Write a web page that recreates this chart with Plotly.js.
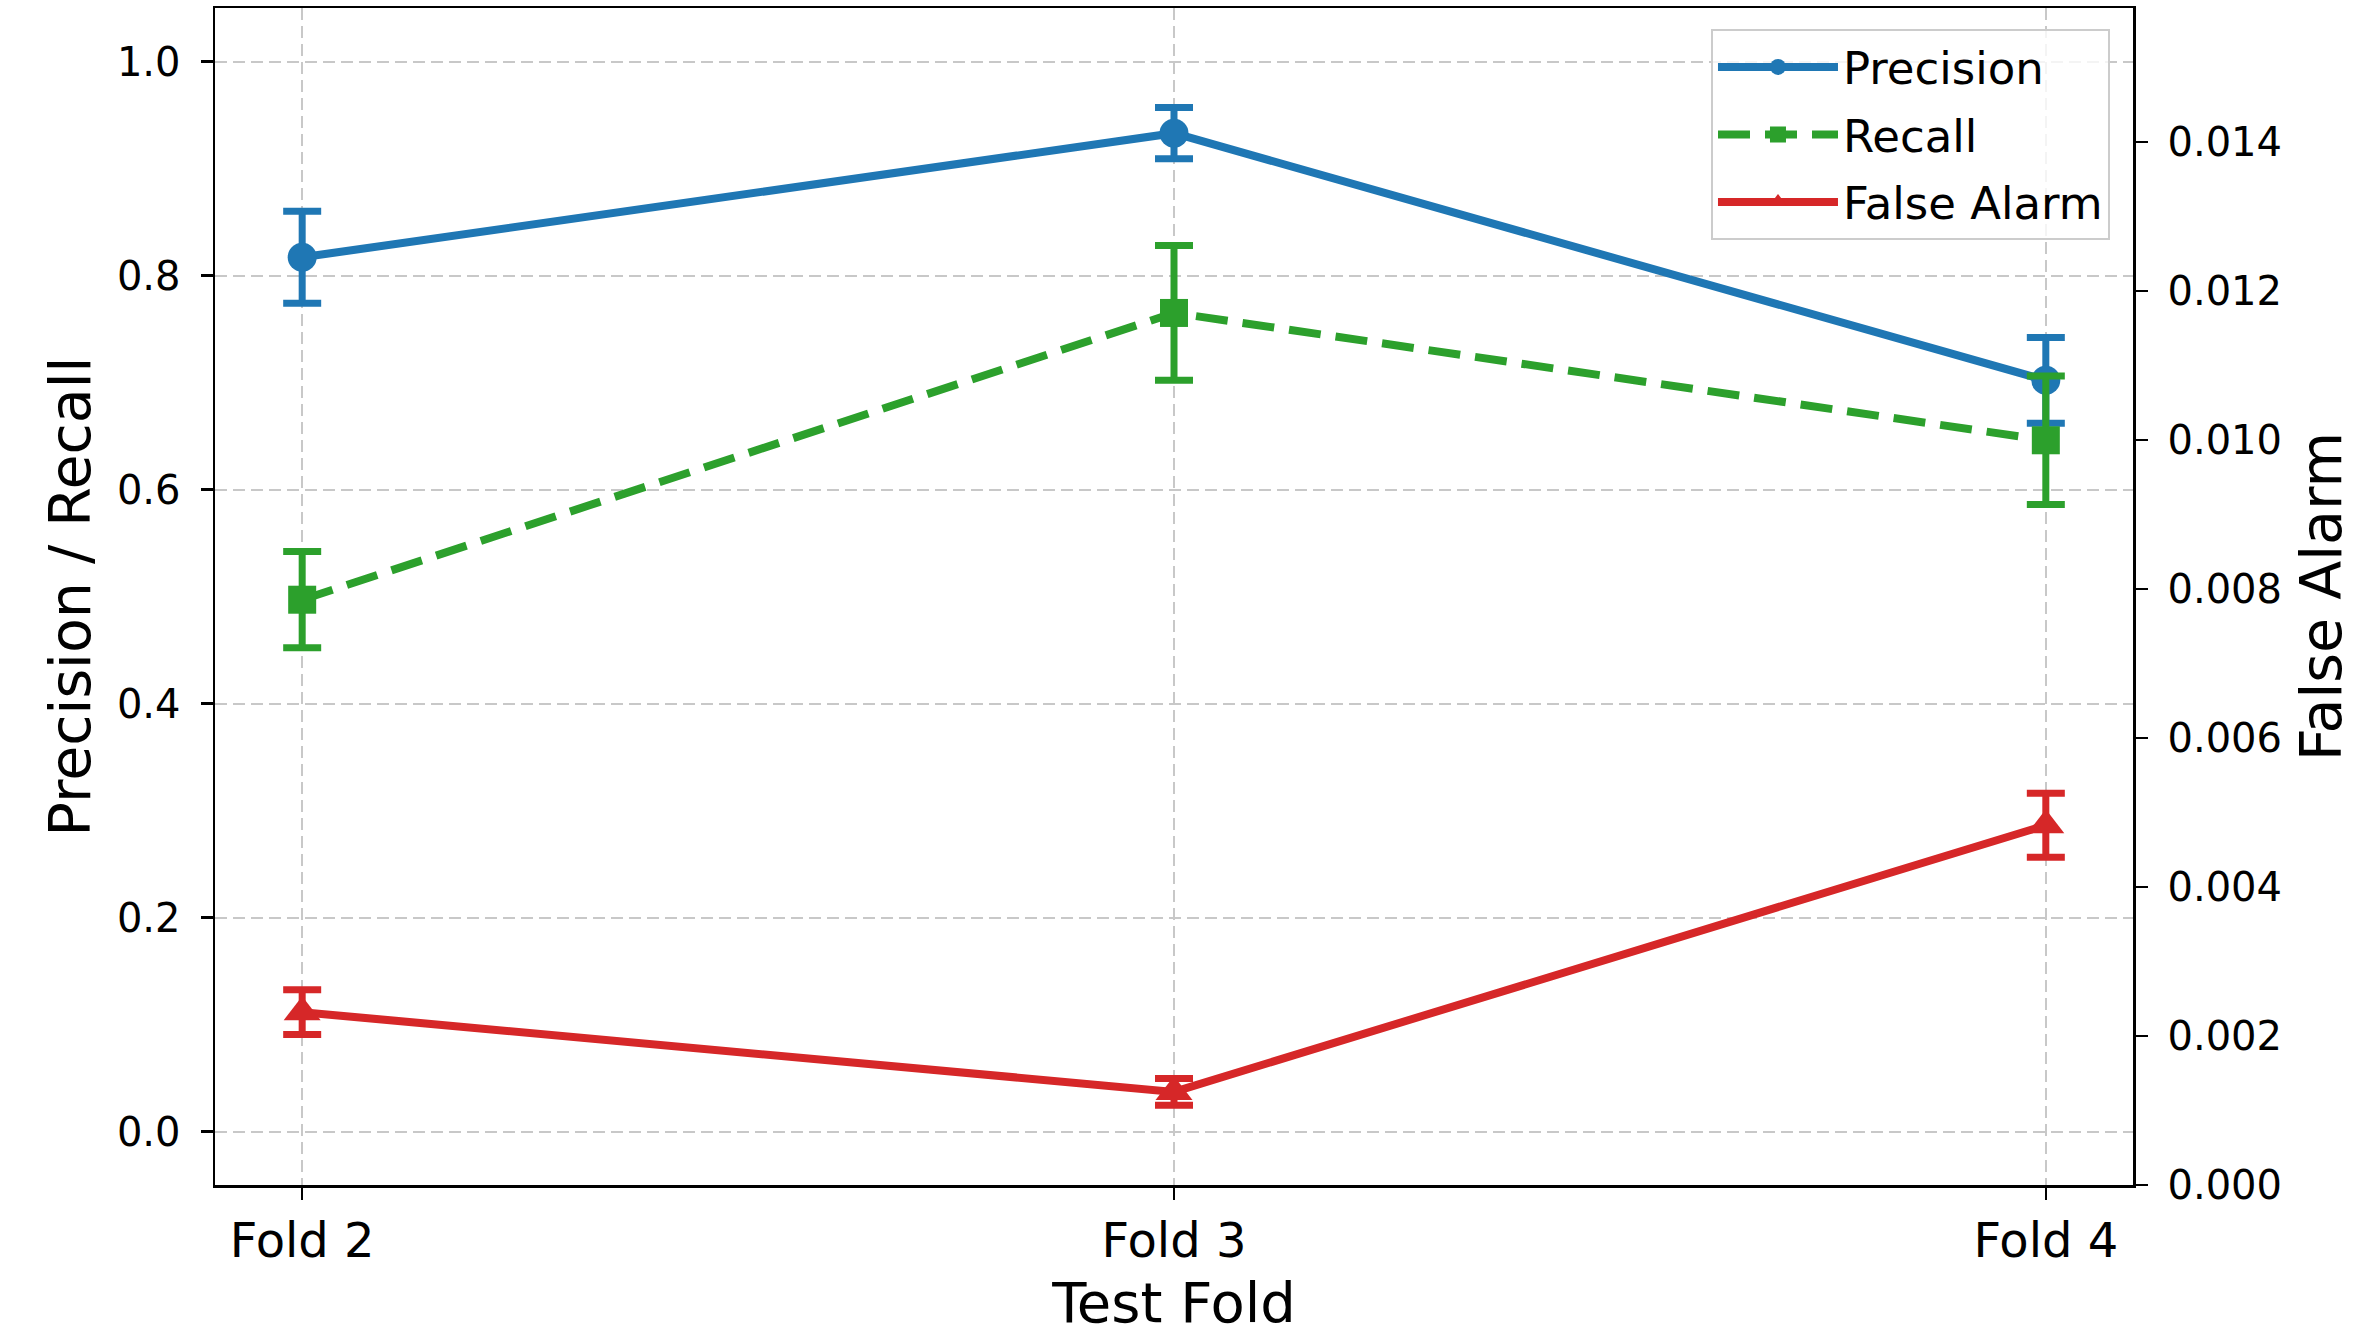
<!DOCTYPE html>
<html>
<head>
<meta charset="utf-8">
<script src="https://cdn.plot.ly/plotly-3.0.1.min.js"></script>
<style>html,body{margin:0;padding:0;background:#fff;}#chart{width:2362px;height:1344px;}</style>
</head>
<body>
<div id="chart"></div>
<script>
const folds = ["Fold 2", "Fold 3", "Fold 4"];
const precision = [0.817, 0.933, 0.702];
const precisionErr = [0.043, 0.024, 0.040];
const recall = [0.497, 0.765, 0.646];
const recallErr = [0.045, 0.063, 0.060];
const falseAlarm = [0.00232, 0.00125, 0.00483];
const falseAlarmErr = [0.00030, 0.00018, 0.00043];

const FONT = "DejaVu Sans, Liberation Sans, sans-serif";

function trace(name, y, err, color, symbol, msize, dash, yaxis) {
  return {
    type: "scatter", mode: "lines+markers", name: name, legendgroup: name,
    x: folds, y: y, yaxis: yaxis,
    line: {color: color, width: 8, dash: dash},
    marker: {color: color, symbol: symbol, size: msize},
    error_y: {type: "data", array: err, visible: true, color: color, thickness: 7, width: 19}
  };
}

const data = [
  trace("Precision", precision, precisionErr, "#1f77b4", "circle", 29, "solid", "y"),
  trace("Recall", recall, recallErr, "#2ca02c", "square", 28, "32px,15px", "y"),
  trace("False Alarm", falseAlarm, falseAlarmErr, "#d62728", "triangle-up", 32, "solid", "y2")
];

const layout = {
  width: 2362, height: 1344,
  margin: {l: 215, r: 229, t: 8, b: 159},
  paper_bgcolor: "#fff", plot_bgcolor: "#fff",
  font: {family: FONT, color: "#000"},
  showlegend: true,
  xaxis: {
    type: "category", range: [-0.1, 2.1],
    showline: true, linecolor: "#000", linewidth: 2.5, mirror: true,
    ticks: "outside", ticklen: 12, tickwidth: 2.5, tickcolor: "#000",
    ticklabelstandoff: 0,
    tickfont: {size: 48, family: FONT},
    showgrid: true, gridcolor: "#c8c8c8", gridwidth: 2, griddash: "12px,6px",
    zeroline: false,
    title: {text: "Test Fold", font: {size: 56, family: FONT}, standoff: 16}
  },
  yaxis: {
    range: [-0.05, 1.05], dtick: 0.2, tick0: 0, tickformat: ".1f",
    showline: true, linecolor: "#000", linewidth: 2.5,
    ticks: "outside", ticklen: 12, tickwidth: 2.5, tickcolor: "#000",
    ticklabelstandoff: 12,
    tickfont: {size: 40, family: FONT},
    showgrid: true, gridcolor: "#c8c8c8", gridwidth: 2, griddash: "12px,6px",
    zeroline: false,
    title: {text: "Precision / Recall", font: {size: 57, family: FONT}, standoff: 8}
  },
  yaxis2: {
    overlaying: "y", side: "right",
    range: [0, 0.0158], dtick: 0.002, tick0: 0, tickformat: ".3f",
    showline: true, linecolor: "#000", linewidth: 2.5,
    ticks: "outside", ticklen: 12, tickwidth: 2.5, tickcolor: "#000",
    ticklabelstandoff: 12,
    tickfont: {size: 40, family: FONT},
    showgrid: false, zeroline: false,
    title: {text: "False Alarm", font: {size: 57, family: FONT}, standoff: 20}
  },
  legend: {
    x: 0.988, xanchor: "right", y: 0.982, yanchor: "top",
    bgcolor: "rgba(255,255,255,0.8)", bordercolor: "#cccccc", borderwidth: 2,
    font: {size: 45, family: FONT}, itemwidth: 120,
    tracegroupgap: 6
  }
};

Plotly.newPlot("chart", data, layout, {displayModeBar: false, staticPlot: true});
</script>
</body>
</html>
